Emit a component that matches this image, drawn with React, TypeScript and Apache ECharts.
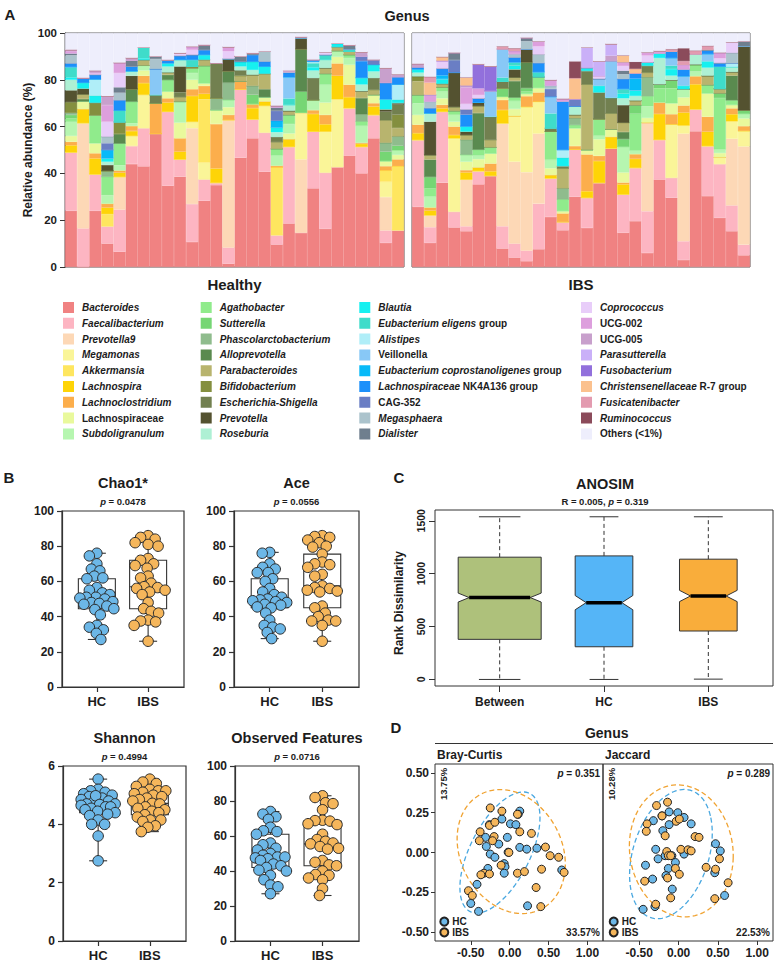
import React, { useEffect, useRef } from "react";
import * as echarts from "echarts";

const FONT = '"Liberation Sans", Arial, Helvetica, sans-serif';
const INK = "#1c1c1c";
const FRAME = "#333333";

/* ---------------- A: genus relative abundance (%) ----------------
   each array: 28 healthy samples followed by 28 IBS samples */
const healthyIds = Array.from({ length: 28 }, (_, i) => `HC${i + 1}`);
const ibsIds = Array.from({ length: 28 }, (_, i) => `IBS${i + 1}`);

const bacteroides = [24, 0, 24, 10, 6.5, 44, 43, 57, 34.7, 38.6, 10.7, 28.3, 35, 1.4, 46.7, 55, 40.7, 9.6, 18.6, 14.6, 33.6, 16.3, 42.7, 47.6, 40, 55, 10.3, 15.7,
  25.7, 10.3, 36, 16.9, 15.3, 35.3, 39, 7.9, 4, 2.5, 7.6, 21.4, 15.7, 30, 16.7, 36, 50.7, 14.6, 19.6, 6, 37.4, 29.6, 3, 58, 30.3, 21, 15.3, 5];
const faecalibacterium = [25, 16.5, 15.6, 7.4, 18, 7.7, 16.3, 0, 31.7, 7.4, 16.2, 9.1, 1, 6.9, 29.3, 8.1, 16.7, 4, 32.8, 0, 24.3, 24, 0, 20.3, 11.4, 10, 5.3, 0,
  28.6, 6.7, 30.4, 6.7, 2.1, 5.7, 0, 9.5, 6, 4.5, 19.4, 16.5, 3.6, 20.3, 12.9, 0, 0, 16.4, 22.8, 17.8, 17, 8.5, 8, 9.4, 21.4, 23, 11, 4.5];
const prevotella9 = [0, 45, 0, 0, 14, 0, 0, 0, 0, 0, 32.4, 0, 0, 54.6, 0, 0, 0, 0, 0, 31.4, 0, 0, 0, 0, 0, 0, 14.3, 0,
  0, 5.1, 0, 0, 20, 0, 0, 44, 35, 33.5, 30, 0, 0, 0, 0, 0, 0, 0, 0, 37.9, 0, 0, 46, 0, 0, 0, 28.5, 42];
const megamonas = [0, 0, 0, 0, 0, 4.3, 14.3, 0, 0, 0, 2.8, 7.2, 0, 0, 0, 0, 11.5, 0, 0, 20, 0, 17.6, 29, 0, 0, 0, 6.5, 0,
  0, 0, 0, 31.4, 0, 0, 0, 0, 19.5, 28, 13.7, 0, 0, 0, 0, 0, 0, 0, 0, 0, 0, 22.9, 3.5, 0, 0, 2.8, 7.5, 6.7];
const akkermansia = [0, 0, 0, 5.2, 0, 0, 0, 0, 0, 0, 0, 27.1, 0, 0, 0, 0, 0, 29, 0, 0, 0, 0, 0, 0, 0, 0, 4.9, 27.4,
  0, 0, 0, 0, 0, 0, 0, 0, 0, 0, 0, 0, 0, 0, 0, 0, 0, 0, 0, 0, 0, 0, 0, 0, 0, 0, 0, 0];
const lachnospira = [3, 6, 6.8, 2.8, 1.8, 2.1, 5, 0, 3.9, 3.3, 11, 2.3, 6.1, 0, 0, 4.8, 1.8, 0, 3.2, 0, 7.5, 3.1, 10, 4.7, 1.2, 3.6, 0, 0,
  2.9, 2, 1.4, 1.4, 3, 1.5, 1.9, 5.7, 0, 0, 0, 1.4, 0, 0, 2.8, 9.3, 4.9, 4.3, 3.8, 0, 11, 0, 5.5, 10.7, 6.1, 0, 3, 0];
const lachnoclostridium = [1.5, 0, 2.2, 1.7, 1, 2.2, 3.1, 13, 1.8, 5.7, 2.9, 3.4, 19, 2.1, 3.3, 1.8, 0, 0.7, 0, 0, 1.7, 4, 5.3, 5.3, 0.5, 1.4, 1.8, 2.9,
  3.6, 1.4, 1.5, 3.6, 1, 0, 3.3, 4.3, 0, 4.5, 3.9, 0, 3.6, 1.4, 15.7, 2.2, 0, 0.8, 2.1, 0, 5, 4.3, 3, 3.5, 6.4, 0, 2.5, 2];
const lachnospiraceae = [2.5, 3.3, 4.3, 0, 0, 0, 2.3, 0, 2.9, 6.7, 4, 1.1, 6, 3.3, 0, 0, 1.9, 0, 2.5, 0, 0, 5.3, 2.8, 8.5, 0, 3.6, 2.2, 1.9,
  4.2, 0, 2.8, 2.1, 3.6, 3.6, 4.3, 1.4, 3, 1, 1.9, 2.9, 1, 7.6, 2, 7.1, 3.2, 4.3, 0, 2, 0, 4.7, 3.5, 0, 10, 1.9, 1.5, 3.3];
const subdoligranulum = [6, 0, 0, 3.6, 2.2, 1.1, 2.1, 0, 0, 9, 2.9, 0, 0, 3.2, 0, 0, 0, 4.3, 4, 0, 4.3, 7.6, 2.6, 2.9, 7.2, 0, 0, 2,
  5, 4.6, 2.9, 2.9, 3, 1.5, 0, 0, 3.5, 0, 0, 3.6, 0, 0, 0, 1.5, 0, 11, 1.4, 5, 0, 0, 3.5, 2, 0, 1.5, 0, 2];
const agathobacter = [1.5, 0, 12, 7.9, 9.3, 9.3, 0, 0, 5, 0, 2.1, 7.5, 0, 0, 0, 0, 0, 2.9, 3.9, 0, 0, 4.7, 0, 1.4, 1.9, 0, 0, 0,
  3.5, 3.5, 1.8, 1.7, 0, 2.6, 2.6, 0, 1.5, 1, 4.7, 12.1, 5, 1.4, 0, 7.1, 0, 0, 15.8, 4.3, 6, 6.4, 0, 2.9, 3.6, 22, 2, 0];
const sutterella = [1.5, 0, 0, 0, 0, 0, 0, 0, 0, 0, 0, 0, 0, 0, 0, 3.9, 0, 0, 0, 9, 0, 0, 0, 0, 0, 0, 4, 1.9,
  0, 4.9, 0, 0, 0, 0, 0, 3.6, 0, 1.5, 0, 0, 0, 0, 0, 0, 0, 3.3, 3.6, 0, 1.6, 3.4, 0, 0, 0, 2, 0, 1.5];
const phascolarctobacterium = [1, 0, 0, 2.5, 0, 0, 0, 0, 0, 0, 0, 0, 5, 7.2, 0, 3.8, 0, 0, 0, 0, 0, 0, 0, 0, 2.9, 0, 3.8, 4,
  0, 0, 0, 0, 6.4, 0, 0, 0, 0, 0, 0, 0, 4.7, 2.9, 0, 0, 0, 0, 0, 8.1, 0, 0, 0, 0, 0, 0, 0, 0];
const alloprevotella = [0, 1, 0, 0, 4.1, 5.3, 0, 0, 2.1, 0, 0, 0, 0, 5, 0, 0, 3.4, 0, 0, 18.1, 0, 0, 0, 0, 7.1, 0, 0, 0,
  0, 7.4, 0, 0, 0, 15.6, 0, 0, 7, 11, 0, 0, 0, 0, 0, 0, 0, 3, 0, 0, 0, 0, 0, 0, 0, 0, 10.5, 0];
const parabacteroides = [0, 2, 0, 0, 0, 0, 2.4, 0, 1, 1.9, 0, 2.6, 0, 0, 2.4, 4.7, 6.6, 2.9, 1.7, 0, 0, 2.4, 1.6, 1.4, 2.9, 2.1, 9.6, 3.6,
  5.9, 1.9, 1.5, 1.7, 2, 3, 3.2, 0, 1.5, 0, 0, 0, 8.5, 1.4, 27.9, 0, 6.8, 4, 2, 2, 0, 0, 0, 0, 3.9, 2, 1.5, 0];
const bifidobacterium = [4.5, 0, 5.3, 0, 5, 0, 0, 0, 0, 0, 0.7, 0, 0, 0, 0, 0, 0, 0, 0, 0, 0, 0, 0, 0, 0, 0, 0, 5.7,
  2, 0, 0, 0, 0, 0, 0, 0, 0, 0, 0, 0, 0, 0, 0, 0, 0, 0, 0, 0, 0, 0, 0, 0, 0, 0, 0, 0];
const escherichia = [0, 0, 0, 0, 0, 0, 0, 3.6, 0, 2.1, 0, 0, 15, 0, 2.3, 0, 0, 2.1, 0, 0, 9.3, 0, 0, 0, 0, 5, 3.7, 4.3,
  0, 0, 0, 0, 0, 0, 10, 2.9, 0, 0, 0, 1.4, 1, 0, 5.8, 11.4, 6.8, 0, 0, 2.9, 0, 0, 0, 0, 0, 0, 0, 0];
const prevotella = [5, 2.5, 0, 2.5, 0, 5.7, 0, 0, 0, 11, 0, 0, 0, 5.3, 0, 0, 0, 0, 0, 4.8, 0, 0, 0, 0, 0, 0, 1, 0.7,
  0, 14.3, 0, 14.7, 1.5, 1.5, 0, 0, 3.5, 5.5, 0, 0, 0, 0, 0, 0, 0, 7.5, 0, 0, 0, 0, 0, 0, 0, 0, 0, 27.4];
const roseburia = [4.5, 0, 0, 1.4, 0, 2, 0, 0, 2.6, 2.9, 0, 0, 0, 0, 1.7, 2.1, 0, 2.1, 2.6, 0, 3.3, 3.6, 0, 0, 2.9, 2.9, 0, 0,
  1.7, 3.6, 0, 0, 0, 0, 0, 0, 0, 0, 0, 0, 0, 3.6, 0, 0, 0, 2.9, 2, 0, 11.3, 2, 0, 4.5, 3.5, 0, 2.2, 0];
const blautia = [1, 2.5, 3, 1.4, 0, 0, 0.7, 0, 1.4, 0, 0, 2.1, 0, 0, 2.1, 3.6, 3.1, 2, 0, 0, 1.4, 0, 1.5, 0, 2.9, 2.9, 4.3, 1.4,
  1.4, 0, 2.1, 0, 2.2, 0, 0, 0, 1.5, 0, 0, 0, 3.6, 0, 1.4, 2.9, 0, 2, 2.4, 1.4, 2, 2.8, 1.5, 0, 2.8, 0, 0, 0];
const eubEligens = [4.5, 0, 0, 0, 5, 0, 4.6, 0, 0, 0, 2.9, 0, 0, 0, 0, 0, 0, 0, 2.8, 0, 1.7, 2.1, 0, 1, 0, 0, 0, 0,
  0, 0, 0, 0, 0, 0, 0, 1.7, 1.5, 0, 2.1, 6.4, 0, 0, 0, 0, 0, 2, 0, 0, 0, 1.5, 0, 0, 0, 9.5, 0, 0];
const alistipes = [0, 0, 7, 0, 0, 0, 0, 0, 0, 0, 0, 0, 0, 0, 0, 0, 0, 0, 0, 0, 0.7, 0, 0, 0, 0, 0, 0, 6.5,
  0, 0, 0, 0, 0, 0, 0, 0, 0, 0, 0, 0, 3.4, 0, 0, 0, 0, 0, 0, 0, 0, 0, 0, 0, 0, 0, 1.5, 0];
const veillonella = [0, 0, 0, 0, 0, 0, 0, 11, 0, 0, 0, 0, 0, 0, 0, 0, 0, 0, 9, 0, 0, 0, 0, 0, 0, 0, 0, 0,
  0, 0, 0, 0, 0, 0, 11, 12.2, 0, 0, 0, 7.1, 0, 0, 0, 2.9, 15.7, 0, 0, 0, 0, 3.2, 4, 0, 3, 0, 0, 0];
const eubCopro = [0, 0, 0, 3.6, 0, 0, 0, 0, 0, 0, 0, 0, 0, 0, 0, 0, 0, 2.9, 0, 0, 0, 0, 0, 0, 0, 0, 0, 0,
  0, 0, 1.5, 0, 0, 0, 0, 0, 0, 0, 0, 0, 0, 0, 0, 0, 0, 0, 5, 0, 0, 0, 0, 0, 0, 0, 0, 0];
const lachnoNK = [1.5, 2, 2, 0, 4.4, 2, 0, 0, 1.4, 1.7, 2.1, 2.1, 0, 0, 0, 2.9, 2.1, 0, 2, 0, 0.8, 0, 0, 0, 7.1, 0, 7.1, 3.3,
  1, 2.2, 2.9, 0, 5, 1.7, 0, 0, 2, 0, 3.9, 0, 20.7, 0, 0, 0, 0, 4.3, 2.2, 0, 0, 2.8, 3, 0, 1.5, 1.5, 0, 0];
const cag352 = [0, 0, 0, 2.9, 0, 0, 0, 0, 0, 0, 0, 0, 0, 0, 0, 0, 0, 4.3, 0, 0, 0, 0, 0, 0, 2.1, 2.1, 0, 0,
  0, 0, 0, 5.4, 2.2, 0, 0, 0, 0, 0, 0, 3.3, 0, 3.1, 0, 0, 0, 0, 0, 0, 0, 0, 0, 0, 0, 0, 0, 0];
const megasphaera = [3.5, 0, 0, 2.8, 3.2, 0, 0, 4.3, 0, 0, 0, 0, 0, 0, 0, 0, 4.3, 0, 0, 0, 0, 0, 0, 0, 0, 0, 0, 0,
  0, 2.8, 0, 0, 0, 0, 0, 0, 1.5, 3.5, 3.6, 1.4, 0, 0, 0, 0, 0, 2, 0, 0, 0, 0, 0, 0, 0, 0, 4.5, 0];
const dialister = [0.8, 0, 0, 0, 2.3, 2.6, 0, 1.1, 0, 0, 0, 2.1, 0, 0, 2.2, 0.7, 0, 1.4, 0, 0.4, 0, 0, 0, 1.7, 0, 0, 0, 0,
  0, 0, 0, 3.1, 0, 0, 0, 0, 0, 1.5, 0, 0, 0, 0, 0, 0, 0, 1.5, 0, 0, 0, 0, 0, 0, 0.5, 0, 0, 2];
const coprococcus = [0, 0, 0.7, 6.4, 6.1, 0, 0, 0, 0, 1.1, 2.1, 0, 0, 3.2, 0, 0, 0, 0, 0.8, 0, 0, 1, 0, 0, 0, 0, 0, 0,
  0, 0, 3.3, 0, 2.4, 1.5, 0, 0, 0, 0, 3.5, 0, 0, 0, 0, 1.2, 0, 2, 0, 3, 0, 0, 0, 0, 0, 2, 4.5, 0];
const ucg002 = [1, 0, 0, 7.1, 4.4, 0, 0, 0, 0, 0, 1.4, 0, 0, 1.8, 0, 0, 0, 0, 0, 0, 0, 0, 0, 0, 0, 0, 0, 0,
  0, 2.8, 0, 0, 7.1, 2.9, 0, 0, 1.5, 0, 2.1, 2.4, 1.1, 0, 0, 0, 0, 1.5, 0, 1.3, 1, 0, 2, 0, 0, 2.4, 0, 0];
const ucg005 = [0.5, 0, 1, 3.8, 0, 1, 0, 0, 0, 0, 0, 0, 0, 0, 0, 0, 0, 0.7, 0, 0, 0, 0, 0, 0, 1.7, 0, 6.2, 1,
  1.3, 0, 0, 0, 0.7, 0, 0, 0, 0, 0, 0, 0, 0, 0, 0, 0, 2.2, 0, 0, 0, 0, 0, 0, 0, 0, 0, 0, 0];
const parasutterella = [0, 0, 0, 0, 0, 0, 0, 0, 0, 0, 0, 0, 0, 0, 0, 0, 0, 0, 0, 0, 0, 0, 0, 0, 0, 0, 0, 0,
  0, 0, 0, 0, 0, 0, 0, 0, 0, 0, 0, 0, 0, 0, 8.6, 6.3, 5, 0, 0, 0, 0, 0, 0, 0, 0, 0, 0, 0];
const fusobacterium = [0, 0, 0, 0, 0, 0, 0, 0, 0, 0, 0, 0, 0, 0, 0, 0, 0, 0, 0, 0, 0, 0, 0, 0, 0, 0, 0, 0,
  0, 0, 0, 0, 0, 10.3, 10.5, 0, 0, 0, 0, 0, 0, 0, 0, 0, 0, 0, 0, 0, 0, 0, 0, 0, 0, 0, 0, 0];
const christensenellaceae = [0, 0, 0, 0, 0, 0, 0, 0, 0, 0, 0, 0, 0, 0, 0, 0, 0, 0, 0, 0, 0, 0, 0, 0, 0, 0, 0, 0,
  0, 5.3, 1.7, 0, 3.5, 0, 0, 0, 0, 0, 0, 0, 0, 9, 0, 0, 0, 3, 2, 0, 0, 0, 0, 0, 0, 0, 0, 0];
const fusicatenibacter = [0, 0, 0, 0, 0, 0, 0, 0, 0, 0, 0, 0, 0, 0, 0, 0, 0, 0, 0, 0, 0, 0, 0, 0, 0, 0, 0, 0,
  0, 2.5, 0, 0, 0, 0, 0, 1.1, 1, 0, 0, 0, 0, 0, 0, 0, 0, 0, 0, 0, 0, 1, 1.5, 1.5, 1.5, 0, 0, 0];
const ruminococcus = [0, 0, 0, 0, 0, 0, 0, 0, 0, 0, 0, 0, 0, 0, 0, 0, 0, 0, 0, 0, 0, 0, 0, 0, 0, 0, 0, 0,
  0, 0, 0, 0, 0, 0, 0, 0, 0, 0, 0, 0, 0, 7.2, 0, 0, 0, 0, 3, 0, 0, 0, 5.5, 0, 0, 0, 0, 0];

const GENERA = [
  "Bacteroides", "Faecalibacterium", "Prevotella9", "Megamonas", "Akkermansia", "Lachnospira",
  "Lachnoclostridium", "Lachnospiraceae", "Subdoligranulum", "Agathobacter", "Sutterella",
  "Phascolarctobacterium", "Alloprevotella", "Parabacteroides", "Bifidobacterium",
  "Escherichia-Shigella", "Prevotella", "Roseburia", "Blautia", "Eubacterium eligens group",
  "Alistipes", "Veillonella", "Eubacterium coprostanoligenes group", "Lachnospiraceae NK4A136 group",
  "CAG-352", "Megasphaera", "Dialister", "Coprococcus", "UCG-002", "UCG-005", "Parasutterella",
  "Fusobacterium", "Christensenellaceae R-7 group", "Fusicatenibacter", "Ruminococcus",
];
const OTHERS = "Others (<1%)";
const GENUS_VALUES = [
  bacteroides, faecalibacterium, prevotella9, megamonas, akkermansia, lachnospira,
  lachnoclostridium, lachnospiraceae, subdoligranulum, agathobacter, sutterella,
  phascolarctobacterium, alloprevotella, parabacteroides, bifidobacterium,
  escherichia, prevotella, roseburia, blautia, eubEligens, alistipes, veillonella, eubCopro,
  lachnoNK, cag352, megasphaera, dialister, coprococcus, ucg002, ucg005, parasutterella,
  fusobacterium, christensenellaceae, fusicatenibacter, ruminococcus,
];
const GENUS_COLORS = [
  "#f08282", "#fdb5c2", "#fdd8b6", "#faf598", "#fee65f", "#fed407", "#fcae4c", "#e9f99c",
  "#b6f6b0", "#90eb8c", "#76d674", "#8fbc8d", "#5a8a4f", "#b8b46e", "#848f3f", "#728050",
  "#545230", "#aef0d4", "#16f0f0", "#3fdcca", "#b0eef8", "#88c8f6", "#08baf8", "#1c90fa",
  "#6a7ec4", "#abc3cc", "#6f7f8e", "#e8cdf9", "#dd9fdd", "#c8a0cc", "#cab0f8", "#9270dc",
  "#fbc18e", "#e39bb0", "#8b4b5b",
];
const OTHERS_COLOR = "#eeeefc";

/* ---------------- B: alpha diversity ---------------- */
const chao1HC = [76, 74.5, 70, 67, 66, 63, 62, 61.5, 56.5, 55, 53.5, 52.5, 51, 51, 50.5, 50, 48.5, 48, 47.5, 47, 46, 44.5, 44, 41, 35, 34, 32.5, 30.5, 27];
const chao1IBS = [86, 85, 84, 82, 81, 80, 73, 72, 70, 69, 67.5, 63, 62, 59, 57, 56.5, 56, 55, 54, 52.5, 48, 44.5, 43, 42, 38, 37.5, 37, 35, 26];
const aceHC = [76.5, 76, 70, 68, 67, 65, 65, 61.5, 60, 56, 54, 52.5, 51, 50, 49.5, 49, 48.5, 48, 47, 46.5, 45.5, 45, 42, 38, 35, 34, 33, 31, 27.5];
const aceIBS = [86, 85.5, 85, 83.5, 82, 80, 79.5, 75.5, 71, 70, 69.5, 68, 64, 63, 57.5, 56.5, 56, 55, 54.5, 54, 46, 45, 42, 40, 38, 37.5, 37.5, 35, 26];
const shannonHC = [5.55, 5.2, 5.15, 5.1, 5.05, 5.0, 4.95, 4.9, 4.85, 4.8, 4.75, 4.98, 4.7, 4.7, 4.68, 4.65, 4.6, 4.6, 4.55, 4.5, 4.45, 4.4, 4.35, 4.3, 4.15, 4.0, 4.0, 3.6, 2.75];
const shannonIBS = [5.55, 5.45, 5.4, 5.3, 5.2, 5.15, 5.15, 5.1, 5.05, 5.0, 4.95, 4.9, 4.85, 4.8, 4.72, 4.7, 4.6, 4.55, 4.5, 4.45, 4.4, 4.33, 4.25, 4.15, 4.15, 4.1, 3.95, 3.9, 3.75];
const observedHC = [74, 72.5, 71, 69.5, 65, 63, 62.5, 61, 56, 55, 53, 52, 50, 49, 48, 48, 47.5, 47, 46, 44, 43, 42, 40.5, 40, 37.5, 35, 32, 31, 27];
const observedIBS = [83, 82, 79, 78.5, 75, 69, 68.8, 68.5, 67, 66.5, 61, 58, 57, 56, 55.5, 54, 53, 52.5, 46, 45, 43.5, 43, 40, 38, 37.5, 36, 35, 30, 26];

const alphaPanels = [
  { title: "Chao1*", p: "0.0478", hc: chao1HC, ibs: chao1IBS, max: 100, step: 20 },
  { title: "Ace", p: "0.0556", hc: aceHC, ibs: aceIBS, max: 100, step: 20 },
  { title: "Shannon", p: "0.4994", hc: shannonHC, ibs: shannonIBS, max: 6, step: 2 },
  { title: "Observed Features", p: "0.0716", hc: observedHC, ibs: observedIBS, max: 100, step: 20 },
];
const groupLabels = ["HC", "IBS"];

/* ---------------- C: ANOSIM rank dissimilarity ---------------- */
const anosimGroups = ["Between", "HC", "IBS"];
const anosimLow = [0, 0, 3];
const anosimQ1 = [379, 309, 458];
const anosimMedian = [774, 726, 789];
const anosimQ3 = [1156, 1168, 1137];
const anosimHigh = [1538, 1538, 1538];
const anosimN = [841, 406, 406];
const anosimColors = ["#aec17b", "#55b5f7", "#f9ad3b"];

/* ---------------- D: PCoA (genus) ---------------- */
const brayHC = [[0.13, 0.26], [0.11, 0.24], [-0.1, 0.21], [-0.26, 0.175], [0.01, 0.18], [0.08, 0.175], [-0.31, 0.095], [-0.03, 0.095], [-0.14, 0.053], [-0.3, 0.038], [0.13, 0.032], [0.22, 0.021], [0.35, 0.027], [-0.25, -0.01], [-0.19, -0.03], [-0.02, 0.002], [-0.07, -0.07], [-0.06, -0.09], [-0.28, -0.1], [-0.07, -0.13], [0.67, -0.11], [-0.42, -0.2], [-0.5, -0.32], [-0.4, -0.37], [0.23, -0.335]];
const brayIBS = [[-0.25, 0.28], [-0.1, 0.26], [0.1, 0.24], [-0.26, 0.17], [-0.19, 0.19], [-0.38, 0.13], [-0.2, 0.1], [-0.22, 0.074], [-0.39, 0.074], [0.13, 0.13], [0.28, 0.12], [0.46, 0.034], [0.52, -0.02], [0.63, -0.03], [-0.01, 0.0], [-0.11, -0.08], [-0.33, -0.13], [-0.37, -0.14], [-0.26, -0.135], [0.1, -0.13], [0.19, -0.12], [0.41, -0.105], [0.7, -0.125], [-0.53, -0.24], [-0.48, -0.27], [0.34, -0.22], [0.4, -0.34]];
const jaccardHC = [[-0.12, 0.255], [-0.01, 0.25], [0.07, 0.22], [-0.21, 0.23], [-0.32, 0.2], [0.16, 0.18], [-0.12, 0.175], [-0.2, 0.137], [-0.29, 0.02], [0.47, 0.055], [0.53, 0.01], [-0.26, -0.04], [-0.17, -0.02], [-0.085, -0.02], [-0.04, -0.063], [0.07, -0.01], [-0.13, -0.1], [-0.16, -0.145], [-0.33, -0.167], [-0.42, -0.08], [-0.08, -0.23], [0.46, -0.127], [0.585, -0.27], [-0.45, -0.357], [-0.3, -0.34]];
const jaccardIBS = [[-0.14, 0.316], [-0.28, 0.295], [-0.21, 0.23], [-0.03, 0.196], [0.01, 0.21], [-0.4, 0.18], [-0.41, 0.133], [-0.17, 0.105], [0.21, 0.1], [0.26, 0.095], [0.03, 0.02], [0.12, 0.017], [0.16, 0.01], [-0.15, 0.006], [-0.13, -0.02], [-0.1, -0.02], [-0.04, -0.1], [0.01, -0.137], [-0.14, -0.16], [-0.43, -0.18], [0.35, -0.093], [0.47, -0.105], [0.52, -0.04], [0.63, -0.19], [0.46, -0.29], [-0.1, -0.285], [-0.29, -0.325]];
// 95% ellipses: [centre x, centre y, semi-major, semi-minor, angle in degrees]
const brayEllipses = [[-0.125, 0, 0.577, 0.277, 31], [0.02, 0.006, 0.702, 0.378, -9.2]];
const jaccardEllipses = [[-0.097, -0.01, 0.556, 0.363, 25.6], [0.035, 0.01, 0.661, 0.413, -4.3]];
const pcoaPanels = [
  { title: "Bray-Curtis", hc: brayHC, ibs: brayIBS, ellipses: brayEllipses, p: "0.351", pc1: "33.57%", pc2: "13.75%" },
  { title: "Jaccard", hc: jaccardHC, ibs: jaccardIBS, ellipses: jaccardEllipses, p: "0.289", pc1: "22.53%", pc2: "10.28%" },
];
const HC_FILL = "#6cb7e7";
const IBS_FILL = "#f5b65b";
const HC_LINE = "#4aa8e0";
const IBS_LINE = "#f0a332";

/* ---------------- helpers ---------------- */
function quantile(sorted: number[], p: number) {
  const pos = (sorted.length - 1) * p;
  const lo = Math.floor(pos);
  const frac = pos - lo;
  return lo + 1 < sorted.length ? sorted[lo] + frac * (sorted[lo + 1] - sorted[lo]) : sorted[lo];
}
function boxStats(values: number[]) {
  const s = [...values].sort((a, b) => a - b);
  return [s[0], quantile(s, 0.25), quantile(s, 0.5), quantile(s, 0.75), s[s.length - 1]];
}
// beeswarm layout inside a band of +-maxOffset px: first free slot at `spacing`,
// otherwise the slot that keeps the largest distance from its neighbours
function swarmOffsets(values: number[], pxPerUnit: number, spacing: number, maxOffset: number) {
  const order = values.map((_, i) => i).sort((a, b) => values[b] - values[a]);
  const placed: [number, number][] = [];
  const offsets = new Array(values.length).fill(0);
  const candidates: number[] = [0];
  for (let s = 0.5; s <= maxOffset; s += 0.5) candidates.push(-s, s);
  for (const i of order) {
    const y = values[i] * pxPerUnit;
    let chosen = 0;
    let bestGap = -1;
    for (const dx of candidates) {
      const gap = placed.reduce((m, [px, py]) => Math.min(m, Math.hypot(px - dx, py - y)), Infinity);
      if (gap >= spacing) { chosen = dx; bestGap = Infinity; break; }
      if (gap > bestGap) { bestGap = gap; chosen = dx; }
    }
    offsets[i] = chosen;
    placed.push([chosen, y]);
  }
  return offsets;
}

const ITALIC_LEGEND: Record<string, string> = {
  "Eubacterium eligens group": "{i|Eubacterium eligens}{n| group}",
  "Eubacterium coprostanoligenes group": "{i|Eubacterium coprostanoligenes}{n| group}",
  "Lachnospiraceae NK4A136 group": "{i|Lachnospiraceae}{n| NK4A136 group}",
  "Christensenellaceae R-7 group": "{i|Christensenellaceae}{n| R-7 group}",
};
const UPRIGHT = new Set(["Lachnospiraceae", "Veillonella", "CAG-352", "UCG-002", "UCG-005", OTHERS]);
const legendLabel = (name: string) =>
  ITALIC_LEGEND[name] ?? (UPRIGHT.has(name) ? `{n|${name}}` : `{i|${name}}`);

const bold = (size: number) => ({ color: INK, fontFamily: FONT, fontWeight: "bold" as const, fontSize: size });

function txt(x: number, y: number, text: string, size: number, opts: any = {}) {
  const { rotation, align = "center", ...rest } = opts;
  return {
    type: "text",
    x,
    y,
    rotation: rotation ?? 0,
    silent: true,
    style: {
      text,
      fill: INK,
      font: `bold ${size}px ${FONT}`,
      align,
      verticalAlign: "middle",
      rich: { it: { fontStyle: "italic", fontWeight: "bold", fontSize: size, fontFamily: FONT, fill: INK } },
      ...rest,
    },
  };
}

function buildOption() {
  const grids = [
    { left: 65, top: 33, width: 339, height: 234 },
    { left: 412, top: 33, width: 338, height: 234 },
    { left: 62, top: 511, width: 122, height: 176 },
    { left: 234, top: 511, width: 125, height: 176 },
    { left: 63, top: 766, width: 123, height: 175 },
    { left: 235, top: 766, width: 124, height: 175 },
    { left: 435, top: 510, width: 338, height: 176 },
    { left: 435, top: 764, width: 168, height: 177 },
    { left: 603, top: 764, width: 170, height: 177 },
  ];
  const xAxis: any[] = [];
  const yAxis: any[] = [];
  const series: any[] = [];
  const graphic: any[] = [];

  /* ----- A ----- */
  [healthyIds, ibsIds].forEach((ids, g) => {
    xAxis.push({ type: "category", gridIndex: g, data: ids, axisLine: { show: false }, axisTick: { show: false }, axisLabel: { show: false } });
    yAxis.push({
      type: "value", gridIndex: g, min: 0, max: 100, interval: 20,
      axisLine: { show: g === 0, lineStyle: { color: FRAME } },
      axisTick: { show: g === 0, length: 5, lineStyle: { color: FRAME } },
      axisLabel: { show: g === 0, margin: 8, ...bold(11.5) },
      splitLine: { show: false },
    });
    const offset = g * 28;
    const sums = ids.map((_, i) => GENUS_VALUES.reduce((acc, arr) => acc + arr[offset + i], 0));
    GENERA.forEach((name, k) => {
      series.push({
        type: "bar", name, xAxisIndex: g, yAxisIndex: g, stack: `abund${g}`,
        barCategoryGap: "0%", silent: true,
        itemStyle: { color: GENUS_COLORS[k], borderColor: GENUS_COLORS[k], borderWidth: 0.4 },
        data: GENUS_VALUES[k].slice(offset, offset + 28),
      });
    });
    series.push({
      type: "bar", name: OTHERS, xAxisIndex: g, yAxisIndex: g, stack: `abund${g}`,
      barCategoryGap: "0%", silent: true,
      itemStyle: { color: OTHERS_COLOR, borderColor: OTHERS_COLOR, borderWidth: 0.4 },
      data: sums.map((s) => Math.max(0, 100 - s)),
    });
  });

  /* ----- B ----- */
  const B_MIN = 0.32;
  const B_MAX = 2.7;
  alphaPanels.forEach((panel, k) => {
    const gi = 2 + k;
    const grid = grids[gi];
    xAxis.push({
      type: "value", gridIndex: gi, min: B_MIN, max: B_MAX,
      axisLine: { onZero: false, lineStyle: { color: FRAME, width: 1.2 } },
      axisTick: { customValues: [1, 2], length: 5, lineStyle: { color: FRAME, width: 1.2 } },
      axisLabel: { customValues: [1, 2], formatter: (v: number) => groupLabels[Math.round(v) - 1], margin: 8, ...bold(13) },
      splitLine: { show: false },
    });
    yAxis.push({
      type: "value", gridIndex: gi, min: 0, max: panel.max, interval: panel.step,
      axisLine: { show: true, onZero: false, lineStyle: { color: FRAME, width: 1.2 } },
      axisTick: { length: 5, lineStyle: { color: FRAME, width: 1.2 } },
      axisLabel: { margin: 8, ...bold(12) },
      splitLine: { show: false },
    });
    const kx = grid.width / (B_MAX - B_MIN);
    const ky = grid.height / panel.max;
    series.push({
      type: "custom", name: `${panel.title} box`, xAxisIndex: gi, yAxisIndex: gi, silent: true,
      encode: { x: 0, y: [1, 2, 3, 4, 5] },
      data: [[1, ...boxStats(panel.hc)], [2, ...boxStats(panel.ibs)]],
      renderItem: (_p: any, api: any) => {
        const x = api.value(0);
        const pt = (v: number) => api.coord([x, v]);
        const [cx, yMin] = pt(api.value(1));
        const yQ1 = pt(api.value(2))[1];
        const yMed = pt(api.value(3))[1];
        const yQ3 = pt(api.value(4))[1];
        const yMax = pt(api.value(5))[1];
        const hw = 18.5;
        const cw = 9;
        const st = { stroke: "#333", lineWidth: 1.1, fill: null };
        return {
          type: "group",
          children: [
            { type: "line", shape: { x1: cx, y1: yMax, x2: cx, y2: yQ3 }, style: st },
            { type: "line", shape: { x1: cx, y1: yQ1, x2: cx, y2: yMin }, style: st },
            { type: "line", shape: { x1: cx - cw, y1: yMax, x2: cx + cw, y2: yMax }, style: st },
            { type: "line", shape: { x1: cx - cw, y1: yMin, x2: cx + cw, y2: yMin }, style: st },
            { type: "rect", shape: { x: cx - hw, y: yQ3, width: 2 * hw, height: yQ1 - yQ3 }, style: st },
            { type: "line", shape: { x1: cx - hw, y1: yMed, x2: cx + hw, y2: yMed }, style: st },
          ],
        };
      },
    });
    [panel.hc, panel.ibs].forEach((vals, gIdx) => {
      const off = swarmOffsets(vals, ky, 7.5, 17);
      series.push({
        type: "scatter", name: `${panel.title} ${groupLabels[gIdx]}`, xAxisIndex: gi, yAxisIndex: gi, silent: true,
        symbolSize: 10.5,
        itemStyle: { color: gIdx === 0 ? HC_FILL : IBS_FILL, borderColor: "#2a2a2a", borderWidth: 1, opacity: 1 },
        data: vals.map((v, i) => [gIdx + 1 + off[i] / kx, v]),
      });
    });
    const cx = grid.left + grid.width / 2;
    const ty = k < 2 ? 483 : 738;
    graphic.push(txt(cx, ty, panel.title, 14.5));
    graphic.push(txt(cx, ty + 18.5, `{it|p} = ${panel.p}`, 9.5));
  });

  /* ----- C ----- */
  {
    const gi = 6;
    xAxis.push({
      type: "value", gridIndex: gi, min: 0.38, max: 3.62,
      axisLine: { show: false, onZero: false },
      axisTick: { customValues: [1, 2, 3], length: 6, lineStyle: { color: FRAME } },
      axisLabel: { customValues: [1, 2, 3], formatter: (v: number) => anosimGroups[Math.round(v) - 1], margin: 10, ...bold(12) },
      splitLine: { show: false },
    });
    yAxis.push({
      type: "value", gridIndex: gi, min: -62, max: 1602,
      axisLine: { show: false, onZero: false },
      axisTick: { customValues: [0, 500, 1000, 1500], length: 6, lineStyle: { color: FRAME } },
      axisLabel: { customValues: [0, 500, 1000, 1500], formatter: (v: number) => String(Math.round(v)), rotate: 90, margin: 9, ...bold(10.5) },
      splitLine: { show: false },
    });
    const maxN = Math.max(...anosimN);
    series.push({
      type: "custom", name: "ANOSIM", xAxisIndex: gi, yAxisIndex: gi, silent: true,
      encode: { x: 0, y: [1, 2, 3, 4, 5] },
      data: anosimGroups.map((_, i) => [i + 1, anosimLow[i], anosimQ1[i], anosimMedian[i], anosimQ3[i], anosimHigh[i], anosimN[i]]),
      renderItem: (params: any, api: any) => {
        const i = params.dataIndex;
        const x = api.value(0);
        const q1 = api.value(2);
        const med = api.value(3);
        const q3 = api.value(4);
        const n = api.value(6);
        const notch = (1.58 * (q3 - q1)) / Math.sqrt(n);
        const Y = (v: number) => api.coord([x, v])[1];
        const cx = api.coord([x, med])[0];
        const wid = 83 * Math.sqrt(n / maxN);
        const xl = cx - wid / 2;
        const xr = cx + wid / 2;
        const ind = 11;
        const yLo = Y(api.value(1));
        const yHi = Y(api.value(5));
        const yq1 = Y(q1);
        const yq3 = Y(q3);
        const ym = Y(med);
        const ynh = Y(med + notch);
        const ynl = Y(med - notch);
        const cap = wid / 4;
        const dash = { stroke: "#333", lineWidth: 1, lineDash: [4, 3] };
        const solid = { stroke: "#333", lineWidth: 1 };
        return {
          type: "group",
          children: [
            { type: "line", shape: { x1: cx, y1: yq3, x2: cx, y2: yHi }, style: dash },
            { type: "line", shape: { x1: cx, y1: yq1, x2: cx, y2: yLo }, style: dash },
            { type: "line", shape: { x1: cx - cap, y1: yHi, x2: cx + cap, y2: yHi }, style: solid },
            { type: "line", shape: { x1: cx - cap, y1: yLo, x2: cx + cap, y2: yLo }, style: solid },
            {
              type: "polygon",
              shape: { points: [[xl, yq3], [xr, yq3], [xr, ynh], [xr - ind, ym], [xr, ynl], [xr, yq1], [xl, yq1], [xl, ynl], [xl + ind, ym], [xl, ynh]] },
              style: { fill: anosimColors[i], stroke: "#333", lineWidth: 1 },
            },
            { type: "line", shape: { x1: xl + ind, y1: ym, x2: xr - ind, y2: ym }, style: { stroke: "#000", lineWidth: 3.5 } },
          ],
        };
      },
    });
    graphic.push(txt(605, 484, "ANOSIM", 14.5));
    graphic.push(txt(605, 501.5, "R = 0.005, {it|p} = 0.319", 9.5));
    graphic.push(txt(399, 603, "Rank Dissimilarity", 12, { rotation: Math.PI / 2 }));
  }

  /* ----- D ----- */
  pcoaPanels.forEach((panel, k) => {
    const gi = 7 + k;
    const grid = grids[gi];
    xAxis.push({
      type: "value", gridIndex: gi, min: -0.96, max: 1.2,
      axisLine: { show: false, onZero: false },
      axisTick: { customValues: [-0.5, 0, 0.5, 1], length: 4, lineStyle: { color: FRAME } },
      axisLabel: { customValues: [-0.5, 0, 0.5, 1], formatter: (v: number) => v.toFixed(2), margin: 6, ...bold(12) },
      splitLine: { show: false },
    });
    yAxis.push({
      type: "value", gridIndex: gi, min: -0.556, max: 0.556,
      axisLine: { show: false, onZero: false },
      axisTick: { show: k === 0, customValues: [-0.5, -0.25, 0, 0.25, 0.5], length: 4, lineStyle: { color: FRAME } },
      axisLabel: { show: k === 0, customValues: [-0.5, -0.25, 0, 0.25, 0.5], formatter: (v: number) => v.toFixed(2), margin: 6, ...bold(12) },
      splitLine: { show: false },
    });
    series.push({
      type: "custom", name: `${panel.title} ellipses`, xAxisIndex: gi, yAxisIndex: gi, silent: true,
      encode: { x: 0, y: 1 },
      data: panel.ellipses,
      renderItem: (params: any, api: any) => {
        const [cx, cy, a, b, deg] = [0, 1, 2, 3, 4].map((d) => api.value(d));
        const th = (deg * Math.PI) / 180;
        const pts: number[][] = [];
        for (let s = 0; s <= 120; s++) {
          const t = (s / 120) * Math.PI * 2;
          const x = cx + a * Math.cos(th) * Math.cos(t) - b * Math.sin(th) * Math.sin(t);
          const y = cy + a * Math.sin(th) * Math.cos(t) + b * Math.cos(th) * Math.sin(t);
          pts.push(api.coord([x, y]));
        }
        return {
          type: "polyline",
          shape: { points: pts },
          style: { stroke: params.dataIndex === 0 ? HC_LINE : IBS_LINE, lineWidth: 1.3, lineDash: [5, 3], fill: null },
        };
      },
    });
    [panel.hc, panel.ibs].forEach((pts, gIdx) => {
      series.push({
        type: "scatter", name: groupLabels[gIdx], xAxisIndex: gi, yAxisIndex: gi, silent: true,
        symbolSize: 8,
        itemStyle: { color: gIdx === 0 ? HC_FILL : IBS_FILL, borderColor: "#222", borderWidth: 1, opacity: 1 },
        data: pts,
      });
    });
    const right = grid.left + grid.width - 3;
    graphic.push(txt(grid.left + 2, 755, panel.title, 12, { align: "left" }));
    graphic.push(txt(grid.left + 8.5, 784, panel.pc2, 9.5, { rotation: Math.PI / 2 }));
    graphic.push(txt(right, 773, `{it|p} = ${panel.p}`, 10, { align: "right" }));
    graphic.push(txt(right, 932, panel.pc1, 10, { align: "right" }));
  });

  /* ----- titles / labels ----- */
  graphic.push(txt(10, 14, "A", 15));
  graphic.push(txt(407, 16, "Genus", 14.5));
  graphic.push(txt(28, 150, "Relative abundance (%)", 12, { rotation: Math.PI / 2 }));
  graphic.push(txt(234.5, 284.5, "Healthy", 15));
  graphic.push(txt(581, 284.5, "IBS", 15));
  graphic.push(txt(9, 477, "B", 15));
  graphic.push(txt(399, 477, "C", 15));
  graphic.push(txt(396, 727, "D", 15));
  graphic.push(txt(606.7, 733, "Genus", 14));
  graphic.push({ type: "line", silent: true, shape: { x1: 435, y1: 743.5, x2: 773, y2: 743.5 }, style: { stroke: "#333", lineWidth: 1 } });

  /* ----- legends ----- */
  const legendText = {
    ...bold(10),
    lineHeight: 12,
    padding: [0, 0, 0, 4],
    rich: {
      i: { fontStyle: "italic", fontWeight: "bold", fontSize: 10, fontFamily: FONT, color: INK, lineHeight: 12 },
      n: { fontWeight: "bold", fontSize: 10, fontFamily: FONT, color: INK, lineHeight: 12 },
    },
  };
  const allNames = [...GENERA, OTHERS];
  const colLeft = [63, 200.7, 359.3, 581];
  const legend: any[] = colLeft.map((left, c) => ({
    orient: "vertical", left, top: 301.5, padding: 0, itemWidth: 9, itemHeight: 9, itemGap: 3.8,
    icon: "rect", selectedMode: false, data: allNames.slice(c * 9, c * 9 + 9),
    formatter: legendLabel, textStyle: legendText,
  }));
  [439.3, 608.7].forEach((left) => {
    legend.push({
      orient: "vertical", left, top: 916.3, padding: 0, itemWidth: 8, itemHeight: 8, itemGap: 0,
      selectedMode: false,
      data: groupLabels.map((name) => ({ name, icon: "circle" })),
      textStyle: { ...bold(10), lineHeight: 10.7, padding: [0, 0, 0, -1] },
    });
  });

  return {
    animation: false,
    backgroundColor: "#ffffff",
    textStyle: { fontFamily: FONT },
    grid: grids.map((g, i) => ({ ...g, show: true, borderColor: i < 2 ? "#555" : FRAME, borderWidth: i >= 2 && i <= 5 ? 1.2 : 1, backgroundColor: "transparent", containLabel: false })),
    xAxis,
    yAxis,
    legend,
    series,
    graphic,
  };
}

export default function App() {
  const ref = useRef<HTMLDivElement>(null);
  useEffect(() => {
    if (!ref.current) return;
    const chart = echarts.init(ref.current, null, { renderer: "svg" });
    chart.setOption(buildOption() as any);
    return () => chart.dispose();
  }, []);
  return <div ref={ref} style={{ position: "fixed", left: 0, top: 0, width: 778, height: 966, background: "#fff" }} />;
}
